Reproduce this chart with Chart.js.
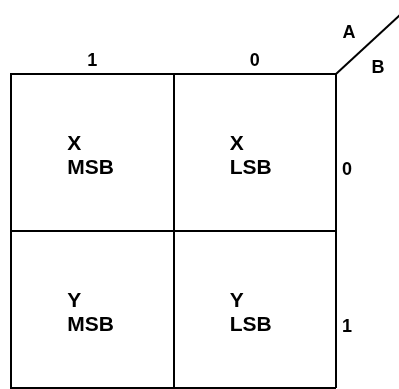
<!DOCTYPE html>
<html>
<head>
<meta charset="utf-8">
<script src="https://cdn.jsdelivr.net/npm/chart.js@4/dist/chart.umd.min.js"></script>
<style>
  body { margin: 0; background: #fff; }
  #wrap { width: 399px; height: 389px; }
</style>
</head>
<body>
<div id="wrap"><canvas id="kmap" width="399" height="389"></canvas></div>
<script>
// map labels (A across the top, B down the right side)
const colLabels = ['1', '0'];
const rowLabels = ['0', '1'];
const cornerLabels = ['A', 'B'];
// what goes in each cell, row by row
const cellNames = [['X', 'X'], ['Y', 'Y']];
const cellBits = [['MSB', 'LSB'], ['MSB', 'LSB']];

const ink = '#000';
const labelFont = { family: 'Liberation Sans', size: 18, weight: 'bold' };
const cellFont = 'bold 21px "Liberation Sans"';

const cellText = {
  id: 'cellText',
  afterDraw(chart) {
    const ctx = chart.ctx;
    const xs = chart.scales.x, ys = chart.scales.y, area = chart.chartArea;
    ctx.save();
    ctx.fillStyle = ink;
    ctx.font = cellFont;
    ctx.textAlign = 'left';
    ctx.textBaseline = 'middle';
    for (let r = 0; r < rowLabels.length; r++) {
      for (let c = 0; c < colLabels.length; c++) {
        let cx = xs.getPixelForValue(c + 0.5);
        let cy = ys.getPixelForValue(r + 0.5);
        ctx.fillText(cellNames[r][c], cx - 25, cy - 8);
        ctx.fillText(cellBits[r][c], cx - 25, cy + 16);
      }
    }
    // variable names either side of the corner line
    ctx.font = 'bold 18px "Liberation Sans"';
    ctx.textAlign = 'center';
    ctx.fillText(cornerLabels[0], area.right + 13, area.top - 41);
    ctx.fillText(cornerLabels[1], area.right + 42, area.top - 6);
    ctx.restore();
  }
};

// no extra room round the label axes
function noPad(s) {
  s.paddingTop = 0; s.paddingBottom = 0;
  s.paddingLeft = 0; s.paddingRight = 0;
}

const config = {
  type: 'scatter',
  data: {
    datasets: [{
      // corner divider line
      data: [{ x: 2, y: 0 }, { x: 2.45, y: -0.43 }],
      showLine: true,
      borderColor: ink,
      borderWidth: 2,
      pointRadius: 0,
      clip: false
    }]
  },
  options: {
    responsive: false,
    animation: false,
    events: [],
    layout: { padding: { left: 11, right: 0, top: 0, bottom: 1 } },
    plugins: { legend: { display: false }, tooltip: { enabled: false } },
    scales: {
      x: {
        type: 'linear', position: 'top', min: 0, max: 2,
        ticks: { display: false, stepSize: 1 },
        grid: { color: ink, lineWidth: 2, drawTicks: false },
        border: { color: ink, width: 2 },
        afterFit: noPad
      },
      y: {
        type: 'linear', position: 'left', min: 0, max: 2, reverse: true,
        ticks: { display: false, stepSize: 1 },
        grid: { color: ink, lineWidth: 2, drawTicks: false },
        border: { color: ink, width: 2 },
        afterFit: noPad
      },
      colAxis: {
        type: 'category', position: 'top', labels: colLabels, offset: true,
        grid: { display: false, drawTicks: false }, border: { display: false },
        ticks: { color: ink, font: labelFont, padding: 2 },
        afterFit(s) { noPad(s); s.height = 74; }
      },
      rowAxis: {
        type: 'category', position: 'right', labels: rowLabels, offset: true,
        grid: { display: false, drawTicks: false }, border: { display: false },
        ticks: { color: ink, font: labelFont, padding: 6, labelOffset: 18 },
        afterFit(s) { noPad(s); s.width = 63; }
      }
    }
  },
  plugins: [cellText]
};

new Chart(document.getElementById('kmap').getContext('2d'), config);
</script>
</body>
</html>
